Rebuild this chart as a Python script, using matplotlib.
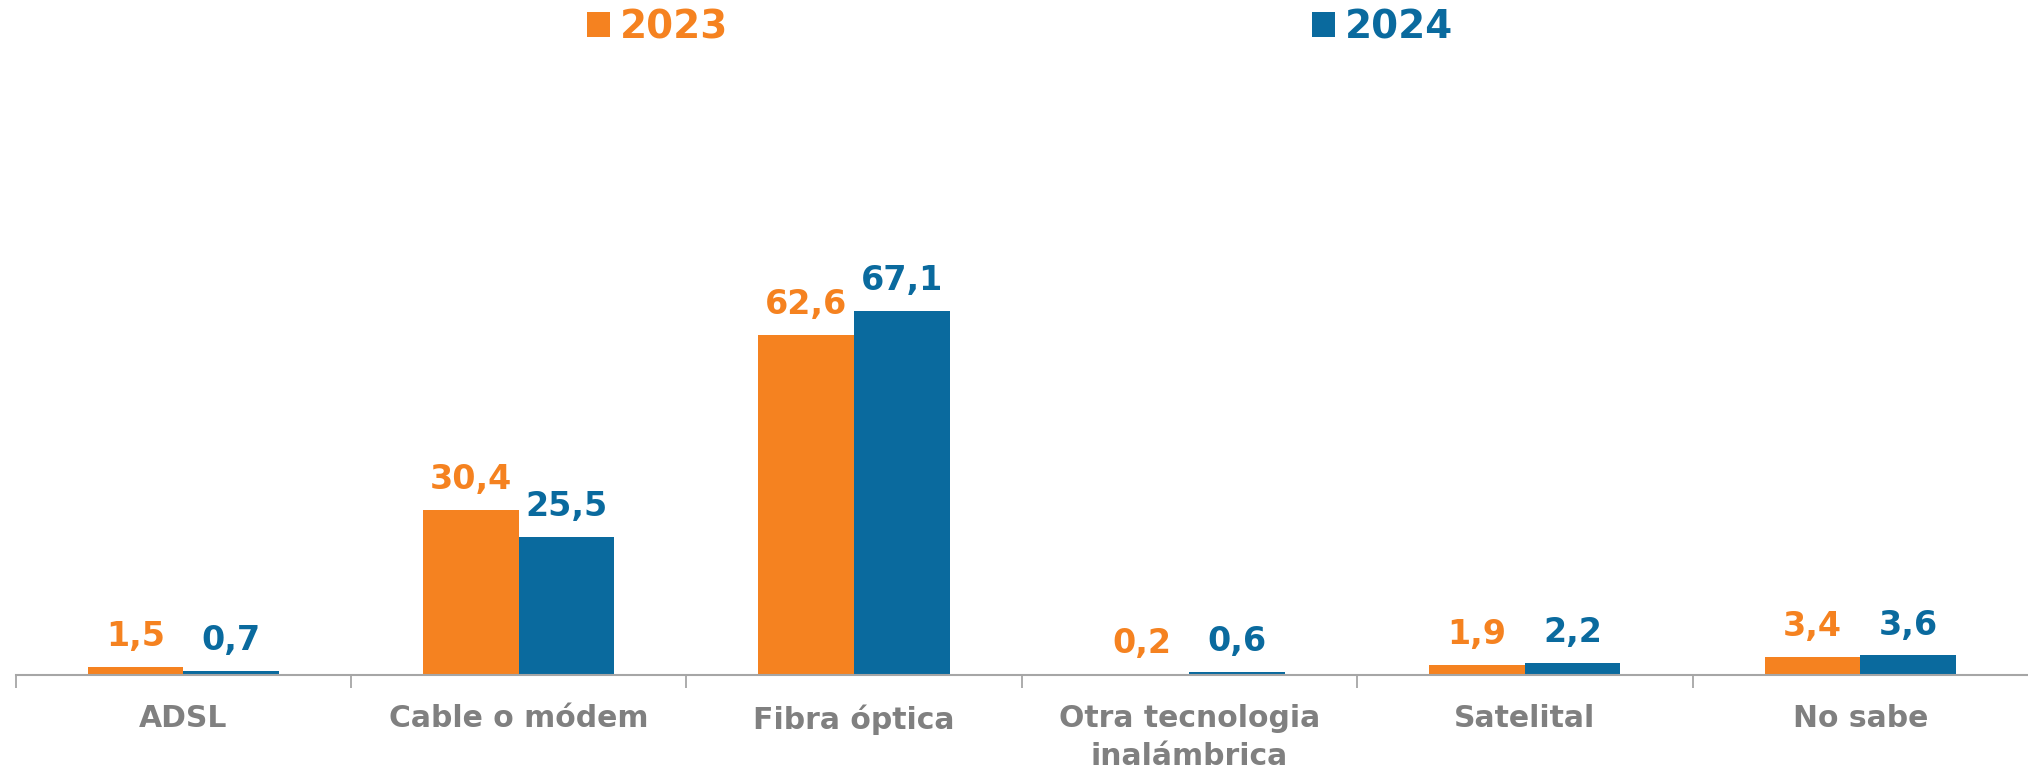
import numpy as np
import matplotlib.pyplot as plt
from matplotlib.ticker import FixedLocator

# datos del gráfico
categorias = ["ADSL", "Cable o módem", "Fibra óptica",
              "Otra tecnologia\ninalámbrica", "Satelital", "No sabe"]
valores_2023 = [1.5, 30.4, 62.6, 0.2, 1.9, 3.4]
valores_2024 = [0.7, 25.5, 67.1, 0.6, 2.2, 3.6]
series = ["2023", "2024"]

naranja = "#F58220"
azul = "#0A6A9E"
gris = "#808080"

plt.rcParams['font.family'] = ['DejaVu Sans']

fig = plt.figure(figsize=(20.28, 7.69), dpi=100)
ax = fig.add_axes([15.5 / 2028, 94 / 769, 1 - 15.5 / 2028, (675 - 20) / 769])

x = np.arange(len(categorias))
ancho = 0.285
b1 = ax.bar(x - ancho / 2, valores_2023, ancho, color=naranja, label=series[0])
b2 = ax.bar(x + ancho / 2, valores_2024, ancho, color=azul, label=series[1])

def fmt(v):
    return f"{v:.1f}".replace(".", ",")

# etiquetas de valor sobre cada barra
for barras, col in ((b1, naranja), (b2, azul)):
    for r in barras:
        ax.annotate(fmt(r.get_height()), (r.get_x() + r.get_width() / 2, r.get_height()),
                    xytext=(0, 15), textcoords="offset points", ha="center", va="baseline",
                    fontsize=24, fontweight="bold", color=col, clip_on=False)

ax.set_xlim(-0.5, len(categorias) - 0.5)
ax.set_ylim(0, 655 / 5.43)

for s in ["top", "right", "left"]:
    ax.spines[s].set_visible(False)
ax.spines["bottom"].set_color("#A6A6A6")
ax.spines["bottom"].set_linewidth(1.5)
ax.set_yticks([])

ax.set_xticks(x)
ax.set_xticklabels(categorias, fontsize=21.5, fontweight="bold", color=gris, linespacing=1.4)
ax.tick_params(axis="x", which="major", length=0, pad=21)
ax.xaxis.set_minor_locator(FixedLocator(np.arange(-0.5, len(categorias) - 0.5, 1)))
ax.tick_params(axis="x", which="minor", length=9, width=1.3, color="#A6A6A6", direction="out")

leg = fig.legend(handles=[b1, b2], loc="upper center", bbox_to_anchor=(0.503, 1.035), ncol=2,
                 frameon=False, fontsize=28, handlelength=0.6, handleheight=0.6,
                 handletextpad=0.25, columnspacing=15.0)
for t, col in zip(leg.get_texts(), (naranja, azul)):
    t.set_color(col)
    t.set_fontweight("bold")

fig.savefig("out.png", dpi=100)
